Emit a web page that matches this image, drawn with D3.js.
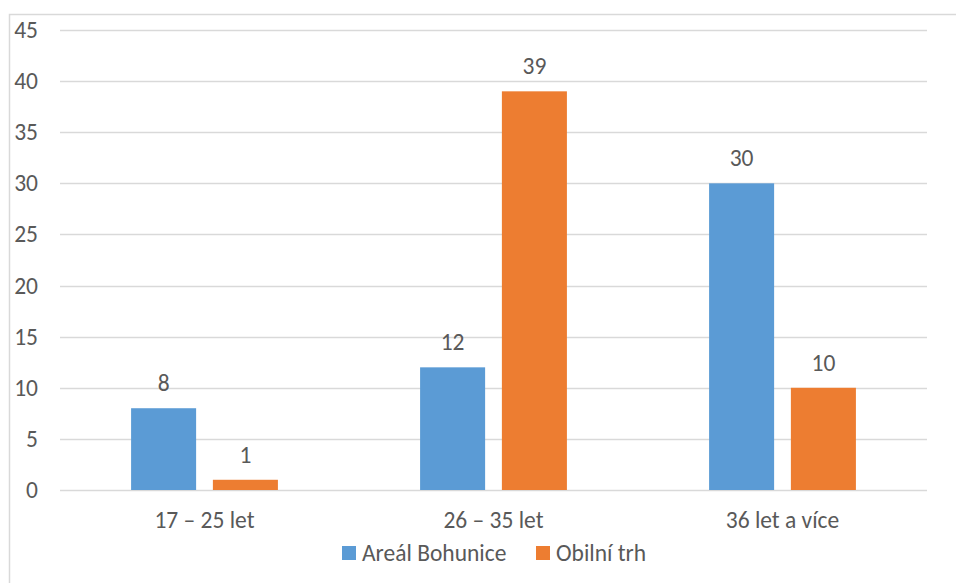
<!DOCTYPE html>
<html>
<head>
<meta charset="utf-8">
<script src="https://cdn.jsdelivr.net/npm/d3@7/dist/d3.min.js"></script>
<style>
  html, body { margin: 0; padding: 0; background: #fff; }
  svg { display: block; }
  text { font-family: Carlito, Calibri, Lato, sans-serif; fill: #595959; }
</style>
</head>
<body>
<svg id="chart" width="956" height="583"></svg>
<script>
// Age groups and respondent counts for the two locations
const categories = ["17 – 25 let", "26 – 35 let", "36 let a více"];
const seriesNames = ["Areál Bohunice", "Obilní trh"];
const arealBohunice = [8, 12, 30];
const obilniTrh = [1, 39, 10];
const yTicks = [0, 5, 10, 15, 20, 25, 30, 35, 40, 45];
const colors = ["#5B9BD5", "#ED7D31"];

const series = [arealBohunice, obilniTrh];
const FS = 23.5;

const svg = d3.select("#chart");
const plot = { left: 60, right: 927, top: 30, bottom: 490 };

// Chart area frame (extends past the right and bottom edges)
svg.append("rect")
  .attr("x", 9.5).attr("y", 14.5)
  .attr("width", 1000).attr("height", 1000)
  .attr("fill", "none").attr("stroke", "#D9D9D9").attr("stroke-width", 1.5);

const x = d3.scaleBand().domain(categories).range([plot.left, plot.right]);
const y = d3.scaleLinear().domain([0, 45]).range([plot.bottom, plot.top]);

const bandW = x.bandwidth();
const barW = bandW * 0.225;
const gap = bandW * 0.058;

// Horizontal grid lines
svg.append("g").selectAll("line").data(yTicks).join("line")
  .attr("x1", plot.left).attr("x2", plot.right)
  .attr("y1", d => Math.round(y(d)) + 0.5).attr("y2", d => Math.round(y(d)) + 0.5)
  .attr("stroke", "#D9D9D9").attr("stroke-width", 1.3);

// Y axis labels
const yAxis = d3.axisLeft(y).tickValues(yTicks).tickSize(0).tickPadding(0);
const yg = svg.append("g").attr("transform", "translate(38,0)").call(yAxis);
yg.select(".domain").remove();
yg.selectAll("text").attr("font-size", FS).style("fill", "#595959")
  .style("font-family", "Carlito, Calibri, Lato, sans-serif");

// X axis labels
const xAxis = d3.axisBottom(x).tickSize(0).tickPadding(0);
const xg = svg.append("g").attr("transform", `translate(0,${plot.bottom + 21})`).call(xAxis);
xg.select(".domain").remove();
xg.selectAll("text").attr("font-size", FS).style("fill", "#595959")
  .style("font-family", "Carlito, Calibri, Lato, sans-serif");

// Bars and value labels
series.forEach((vals, si) => {
  const offset = si === 0 ? -gap / 2 - barW : gap / 2;
  const g = svg.append("g");
  g.selectAll("rect").data(vals).join("rect")
    .attr("x", (d, i) => x(categories[i]) + bandW / 2 + offset)
    .attr("y", d => y(d))
    .attr("width", barW)
    .attr("height", d => y(0) - y(d))
    .attr("fill", colors[si]);
  g.selectAll("text").data(vals).join("text")
    .attr("x", (d, i) => x(categories[i]) + bandW / 2 + offset + barW / 2)
    .attr("y", d => y(d) - 17)
    .attr("text-anchor", "middle")
    .attr("font-size", FS)
    .text(d => d);
});

// Legend
const legendItems = [
  { name: seriesNames[0], color: colors[0], x: 342 },
  { name: seriesNames[1], color: colors[1], x: 536 }
];
const lg = svg.append("g");
legendItems.forEach(it => {
  lg.append("rect").attr("x", it.x).attr("y", 546).attr("width", 14).attr("height", 14).attr("fill", it.color);
  lg.append("text").attr("x", it.x + 20).attr("y", 561).attr("font-size", FS).text(it.name);
});
</script>
</body>
</html>
